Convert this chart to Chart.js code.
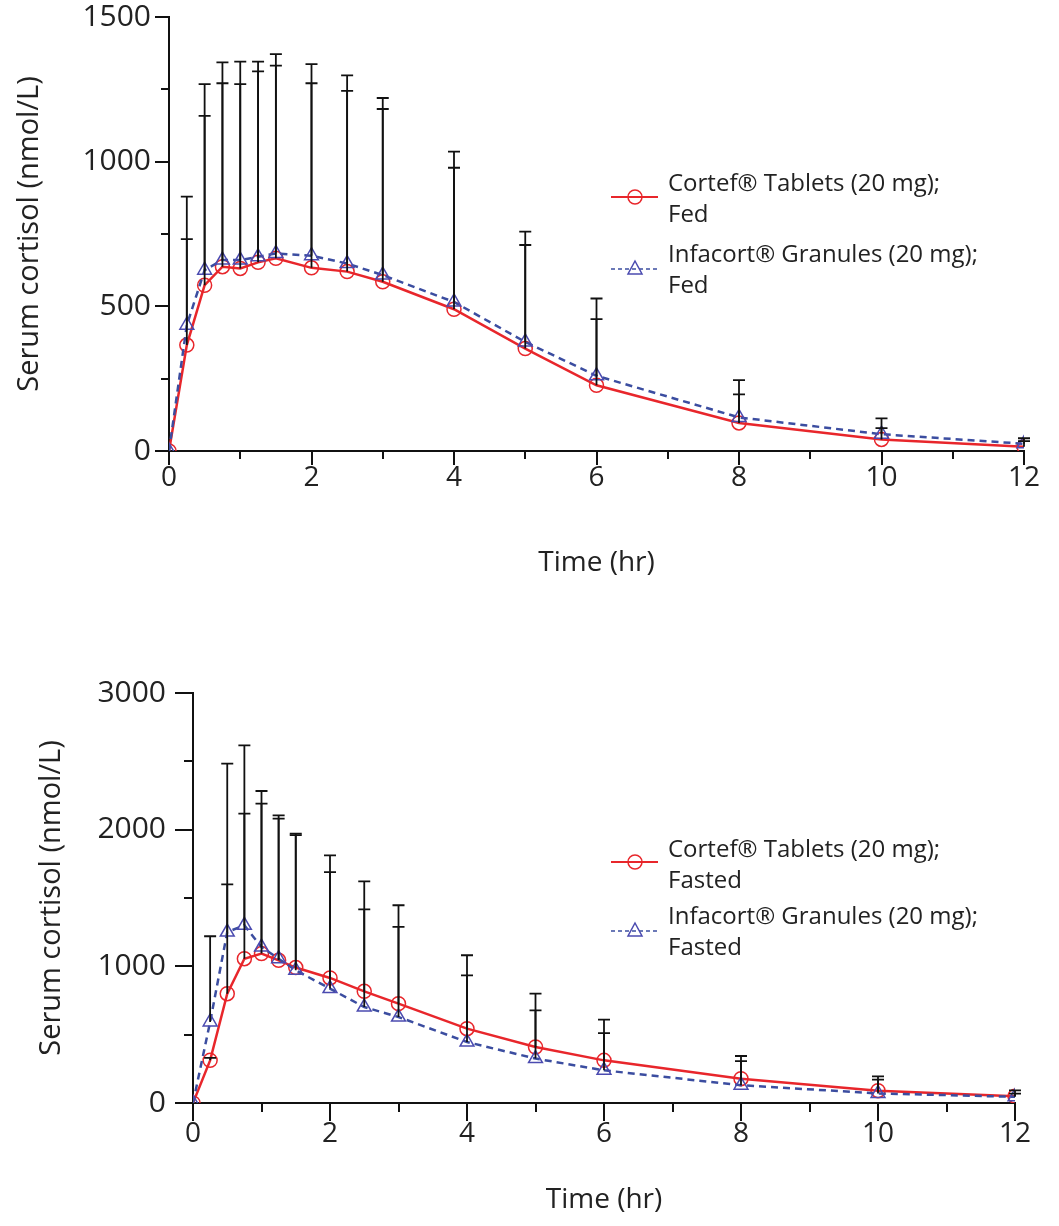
<!DOCTYPE html>
<html>
<head>
<meta charset="utf-8">
<script src="https://cdn.jsdelivr.net/npm/chart.js@4.4.0/dist/chart.umd.min.js"></script>
<style>
  body { margin: 0; background: #fff; width: 1059px; height: 1226px; position: relative; overflow: hidden; font-family: 'Open Sans', sans-serif; }
  canvas { position: absolute; left: 0; }
  #fedChart { top: -40px; }
  #fastedChart { top: 610px; }
  .item { position: absolute; left: 610px; font-size: 24px; line-height: 31px; color: #222; }
  .item svg { position: absolute; left: 0; }
  .item div { margin-left: 58px; white-space: nowrap; }
</style>
</head>
<body>
<canvas id="fedChart" width="1059" height="640"></canvas>
<canvas id="fastedChart" width="1059" height="616"></canvas>

<div class="item" style="top:166px">
  <svg width="52" height="20" style="top:21px"><line x1="1" y1="10" x2="48" y2="10" stroke="#e8262b" stroke-width="2"/><circle cx="25" cy="10" r="7" fill="none" stroke="#e8262b" stroke-width="1.5"/></svg>
  <div>Cortef® Tablets (20 mg);<br>Fed</div>
</div>
<div class="item" style="top:237px">
  <svg width="52" height="20" style="top:21px"><line x1="1" y1="11" x2="48" y2="11" stroke="#3b4da0" stroke-width="1.5" stroke-dasharray="4,3"/><path d="M25 3 L32 16 L18 16 Z" fill="none" stroke="#4b4bb0" stroke-width="1.5"/></svg>
  <div>Infacort® Granules (20 mg);<br>Fed</div>
</div>

<div class="item" style="top:832px">
  <svg width="52" height="20" style="top:20px"><line x1="1" y1="10" x2="48" y2="10" stroke="#e8262b" stroke-width="2"/><circle cx="25" cy="10" r="7" fill="none" stroke="#e8262b" stroke-width="1.5"/></svg>
  <div>Cortef® Tablets (20 mg);<br>Fasted</div>
</div>
<div class="item" style="top:899px">
  <svg width="52" height="20" style="top:21px"><line x1="1" y1="11" x2="48" y2="11" stroke="#3b4da0" stroke-width="1.5" stroke-dasharray="4,3"/><path d="M25 3 L32 16 L18 16 Z" fill="none" stroke="#4b4bb0" stroke-width="1.5"/></svg>
  <div>Infacort® Granules (20 mg);<br>Fasted</div>
</div>

<script>
const hours = [0, 0.25, 0.5, 0.75, 1, 1.25, 1.5, 2, 2.5, 3, 4, 5, 6, 8, 10, 12];

// Fed: mean and top of SD bar (nmol/L)
const fedCortef = [0, 366, 573, 637, 631, 652, 666, 633, 620, 585, 490, 354, 227, 97, 40, 15];
const fedCortefUpper = [0, 732, 1158, 1271, 1268, 1312, 1332, 1271, 1245, 1182, 979, 712, 456, 196, 79, 34];
const fedInfacort = [0, 435, 625, 660, 660, 671, 683, 675, 648, 608, 515, 377, 260, 116, 58, 25];
const fedInfacortUpper = [0, 879, 1268, 1343, 1346, 1346, 1372, 1337, 1298, 1220, 1035, 758, 527, 245, 113, 44];

// Fasted
const fastedCortef = [0, 312, 800, 1056, 1093, 1044, 991, 915, 817, 727, 544, 410, 312, 178, 90, 50];
const fastedCortefUpper = [0, 330, 1600, 2117, 2191, 2081, 1971, 1812, 1622, 1447, 1081, 800, 610, 344, 195, 93];
const fastedInfacort = [0, 593, 1251, 1300, 1141, 1056, 971, 837, 702, 629, 446, 325, 239, 130, 70, 45];
const fastedInfacortUpper = [0, 1220, 2483, 2617, 2283, 2105, 1960, 1690, 1417, 1288, 934, 678, 512, 307, 171, 68];

Chart.defaults.font.family = "'Open Sans', sans-serif";
Chart.defaults.color = '#222';

function points(values) {
    return hours.map((h, i) => ({ x: h, y: values[i] }));
}

const errorBars = {
    id: 'errorBars',
    afterDatasetsDraw(chart) {
        const { ctx, scales: { x, y } } = chart;
        ctx.save();
        ctx.strokeStyle = '#111';
        ctx.lineWidth = 1.8;
        chart.data.datasets.forEach(ds => {
            ds.upper.forEach((top, i) => {
                const mean = ds.data[i].y;
                if (top <= mean) return;
                const px = x.getPixelForValue(ds.data[i].x);
                const y0 = y.getPixelForValue(mean);
                const y1 = y.getPixelForValue(top);
                ctx.beginPath();
                ctx.moveTo(px, y0);
                ctx.lineTo(px, y1);
                ctx.moveTo(px - 6, y1);
                ctx.lineTo(px + 6, y1);
                ctx.stroke();
            });
        });
        ctx.restore();
    }
};

// tick marks: long on labelled values, short in between
const axisMarks = {
    id: 'axisMarks',
    afterDraw(chart, args, opts) {
        const { ctx, chartArea, scales: { x, y } } = chart;
        ctx.save();
        ctx.strokeStyle = '#111';
        ctx.lineWidth = 2;
        ctx.beginPath();
        x.ticks.forEach(t => {
            const px = Math.round(x.getPixelForValue(t.value));
            const len = t.value % opts.xMajor === 0 ? opts.major : opts.minor;
            ctx.moveTo(px, chartArea.bottom);
            ctx.lineTo(px, chartArea.bottom + len);
        });
        y.ticks.forEach(t => {
            const py = Math.round(y.getPixelForValue(t.value));
            const len = t.value % opts.yMajor === 0 ? opts.major : opts.minor;
            ctx.moveTo(chartArea.left, py);
            ctx.lineTo(chartArea.left - len, py);
        });
        ctx.stroke();
        ctx.restore();
    }
};

function makeChart(id, cfg) {
    const canvas = document.getElementById(id);
    const H = canvas.height;
    return new Chart(canvas.getContext('2d'), {
        type: 'line',
        data: {
            datasets: [
                {
                    label: 'Infacort® Granules (20 mg); ' + cfg.tag,
                    data: points(cfg.infacort),
                    upper: cfg.infacortUpper,
                    borderColor: '#3b4da0',
                    borderWidth: 2.5,
                    borderDash: [7, 5],
                    pointStyle: 'triangle',
                    pointRadius: 8,
                    pointBorderColor: '#4b4bb0',
                    pointBackgroundColor: 'rgba(0,0,0,0)',
                    pointBorderWidth: 1.5,
                    tension: 0
                },
                {
                    label: 'Cortef® Tablets (20 mg); ' + cfg.tag,
                    data: points(cfg.cortef),
                    upper: cfg.cortefUpper,
                    borderColor: '#e8262b',
                    borderWidth: 2.5,
                    pointStyle: 'circle',
                    pointRadius: 7,
                    pointBorderColor: '#e8262b',
                    pointBackgroundColor: 'rgba(0,0,0,0)',
                    pointBorderWidth: 1.5,
                    tension: 0
                }
            ]
        },
        options: {
            responsive: false,
            animation: false,
            layout: {
                padding: { left: 0, right: canvas.width - cfg.right, top: cfg.top, bottom: 0 }
            },
            plugins: {
                legend: { display: false },
                tooltip: { enabled: false },
                axisMarks: { xMajor: 2, yMajor: cfg.yMajor, major: cfg.tickLen, minor: cfg.minorLen }
            },
            scales: {
                x: {
                    type: 'linear',
                    min: 0,
                    max: 12,
                    grid: { display: false, drawTicks: false },
                    border: { display: true, color: '#111', width: 2 },
                    ticks: {
                        stepSize: 1,
                        autoSkip: false,
                        maxRotation: 0,
                        padding: cfg.xLabelPad,
                        font: { size: 28 },
                        callback: v => (v % 2 === 0 ? v : '')
                    },
                    title: {
                        display: true,
                        text: 'Time (hr)',
                        font: { size: 28 },
                        padding: { top: 0, bottom: cfg.xTitlePad }
                    },
                    afterFit: scale => { scale.height = H - cfg.bottom; }
                },
                y: {
                    min: 0,
                    max: cfg.yMax,
                    grid: { display: false, drawTicks: false },
                    border: { display: true, color: '#111', width: 2 },
                    ticks: {
                        stepSize: cfg.yMajor / 2,
                        padding: cfg.yLabelPad,
                        font: { size: 30 },
                        callback: v => (v % cfg.yMajor === 0 ? v : '')
                    },
                    title: {
                        display: true,
                        text: 'Serum cortisol (nmol/L)',
                        font: { size: 29 },
                        padding: { top: cfg.yTitlePad, bottom: 0 }
                    },
                    afterFit: scale => { scale.width = cfg.left; }
                }
            }
        },
        plugins: [axisMarks, errorBars]
    });
}

// fed canvas sits 40px above the page top
makeChart('fedChart', {
    tag: 'Fed',
    cortef: fedCortef, cortefUpper: fedCortefUpper,
    infacort: fedInfacort, infacortUpper: fedInfacortUpper,
    yMax: 1500, yMajor: 500,
    left: 169, right: 1024, top: 57, bottom: 491,
    tickLen: 14, minorLen: 8,
    xLabelPad: 10, xTitlePad: 20, yLabelPad: 18, yTitlePad: 12
});

makeChart('fastedChart', {
    tag: 'Fasted',
    cortef: fastedCortef, cortefUpper: fastedCortefUpper,
    infacort: fastedInfacort, infacortUpper: fastedInfacortUpper,
    yMax: 3000, yMajor: 1000,
    left: 193, right: 1015, top: 83, bottom: 493,
    tickLen: 18, minorLen: 9,
    xLabelPad: 14, xTitlePad: 9, yLabelPad: 27, yTitlePad: 34
});
</script>
</body>
</html>
